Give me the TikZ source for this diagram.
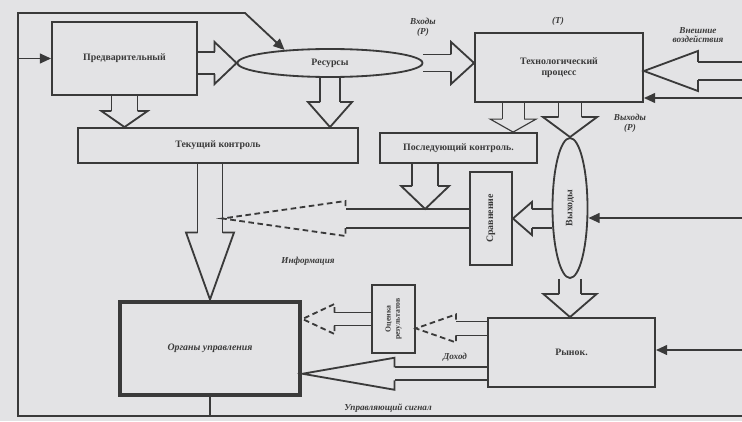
\documentclass[tikz,border=0pt]{standalone}
\usepackage{fontspec}
\setmainfont{Liberation Serif}
\usepackage{graphicx}
\usetikzlibrary{positioning, arrows.meta, calc, shapes.geometric}
\definecolor{papier}{HTML}{E3E3E5}
\definecolor{tinte}{HTML}{3A3A3A}

\newcommand{\hohlpfeil}[6][]{%
  \begin{scope}[kopf/.style={}, #1]
    \coordinate (hb) at ($(#3)!#6*0.7113pt!(#2)$);
    \draw[linie] ($(#2)!#4*0.7113pt!90:(#3)$) -- ($(hb)!#4*0.7113pt!90:(#3)$)
      ($(#2)!#4*0.7113pt!-90:(#3)$) -- ($(hb)!#4*0.7113pt!-90:(#3)$);
    \draw[linie, kopf, line join=miter] ($(hb)!#4*0.7113pt!90:(#3)$) -- ($(hb)!#5*0.7113pt!90:(#3)$)
      -- (#3) -- ($(hb)!#5*0.7113pt!-90:(#3)$) -- ($(hb)!#4*0.7113pt!-90:(#3)$);
  \end{scope}}

\begin{document}
\begin{tikzpicture}[x=0.025cm, y=-0.025cm,
    kasten/.style={draw=tinte, line width=1.3pt, text=tinte, align=center,
      font=\fontsize{7}{8}\selectfont\bfseries, inner sep=1pt},
    oval/.style={kasten, ellipse, inner sep=0pt},
    linie/.style={draw=tinte, line width=1.3pt},
    spitze/.style={-{Triangle[length=8pt, width=7pt]}},
    strich/.style={dash pattern=on 4pt off 2.5pt},
    marke/.style={text=tinte, align=center, font=\fontsize{6.5}{7}\selectfont\bfseries\itshape}]
  \fill[papier] (0,0) rectangle (742,421);
  \useasboundingbox (0,0) rectangle (742,421);

  \node[kasten, minimum width=3.625cm, minimum height=1.825cm] (pred) at (124.5,58.5) {Предварительный};
  \node[oval, minimum width=4.625cm, minimum height=0.7cm] (res) at (330,63) {Ресурсы};
  \node[kasten, minimum width=4.2cm, minimum height=1.725cm] (proc) at (559,67.5) {Технологический\\процесс};
  \node[kasten, minimum width=7cm, minimum height=0.875cm] (tek) at (218,145.5) {Текущий контроль};
  \node[kasten, minimum width=3.925cm, minimum height=0.75cm] (posl) at (458.5,148) {Последующий контроль.};
  \node[kasten, minimum width=1.05cm, minimum height=2.325cm] (sravn) at (491,218.5) {\rotatebox{90}{Сравнение}};
  \node[oval, minimum width=0.875cm, minimum height=3.5cm] (vyh) at (570,208) {\rotatebox{90}{Выходы}};
  \node[kasten, minimum width=4.175cm, minimum height=1.725cm] (rynok) at (571.5,352.5) {Рынок.};
  \node[kasten, minimum width=1.075cm, minimum height=1.7cm, font=\fontsize{5.5}{6}\selectfont\bfseries] (ocenka) at (393.5,319)
    {\rotatebox{90}{\shortstack{Оценка\\результатов}}};
  \node[kasten, line width=3.5pt, minimum width=4.5cm, minimum height=2.325cm, font=\fontsize{7}{8}\selectfont\bfseries\itshape] (organy) at (210,348.5) {Органы управления};

  \node[marke] (vhod) at (423,27) {Входы\\(Р)};
  \node[marke] (tlbl) at (558,21) {(Т)};
  \node[marke] (vnesh) at (698,35) {Внешние\\воздействия};
  \node[marke] (vyhlbl) at (630,123) {Выходы\\(Р)};
  \node[marke] (info) at (308,261) {Информация};
  \node[marke] (dohod) at (455,357) {Доход};
  \node[marke] (signal) at (388,408) {Управляющий сигнал};

  \coordinate (fTL) at (18,13);
  \coordinate (fK) at (245,13);
  \coordinate (fBL) at (18,416);
  \coordinate (fBR) at (742,416);
  \coordinate (eH) at (742,71);
  \coordinate (eP) at (742,98);
  \coordinate (eV) at (742,218);
  \coordinate (eR) at (742,350);

  \draw[linie, spitze] (fBR) -- (fBL) -- (fTL) -- (fK) -- (res.164);
  \draw[linie, spitze] (fTL |- pred.west) -- (pred.west);
  \draw[linie] (organy.south) -- (organy.south |- fBL);
  \draw[linie, spitze] (eP) -- (eP -| proc.east);
  \draw[linie, spitze] (eV) -- (vyh.east |- eV);
  \draw[linie, spitze] (eR) -- (eR -| rynok.east);

  \hohlpfeil{pred.east |- res.west}{res.west}{11}{21}{22}
  \hohlpfeil{res.east}{proc.west |- res.east}{8.5}{21}{23}
  \hohlpfeil{eH}{proc.east |- eH}{9}{20}{54}
  \hohlpfeil{pred.south}{pred.south |- tek.north}{13}{23}{16}
  \hohlpfeil{res.south}{res.south |- tek.north}{10}{22}{25}
  \coordinate (pA) at ($(proc.south west)!0.23!(proc.south east)$);
  \hohlpfeil[linie/.append style={line width=0.8pt}]{pA}{pA |- posl.north}{11}{23}{13}
  \hohlpfeil{vyh.north |- proc.south}{vyh.north}{11.5}{27}{20}
  \coordinate (pB) at ($(posl.south west)!0.29!(posl.south east)$);
  \coordinate (pD) at ($(pB |- sravn.west)+(0,-9.5)$);
  \hohlpfeil{pB}{pD}{13}{24}{23}
  \coordinate (pC) at ($(organy.north |- sravn.west)+(12.5,0)$);
  \hohlpfeil[kopf/.style={strich}]{sravn.west}{pC}{9.5}{17.5}{123}
  \hohlpfeil{organy.north |- tek.south}{organy.north}{12.5}{24}{67}
  \hohlpfeil{vyh.west |- sravn.east}{sravn.east}{9.5}{16.5}{19}
  \hohlpfeil{vyh.south}{vyh.south |- rynok.north}{11}{26.5}{23}
  \coordinate (rO) at ($(rynok.north west)!0.16!(rynok.south west)$);
  \coordinate (rU) at ($(rynok.north west)!0.8!(rynok.south west)$);
  \hohlpfeil[kopf/.style={strich}]{rO}{ocenka.east |- rO}{7}{14}{40}
  \hohlpfeil[kopf/.style={strich}]{ocenka.west}{organy.east |- ocenka.west}{6.5}{15}{32}
  \hohlpfeil{rU}{organy.east |- rU}{6.5}{16}{92}
\end{tikzpicture}
\end{document}
